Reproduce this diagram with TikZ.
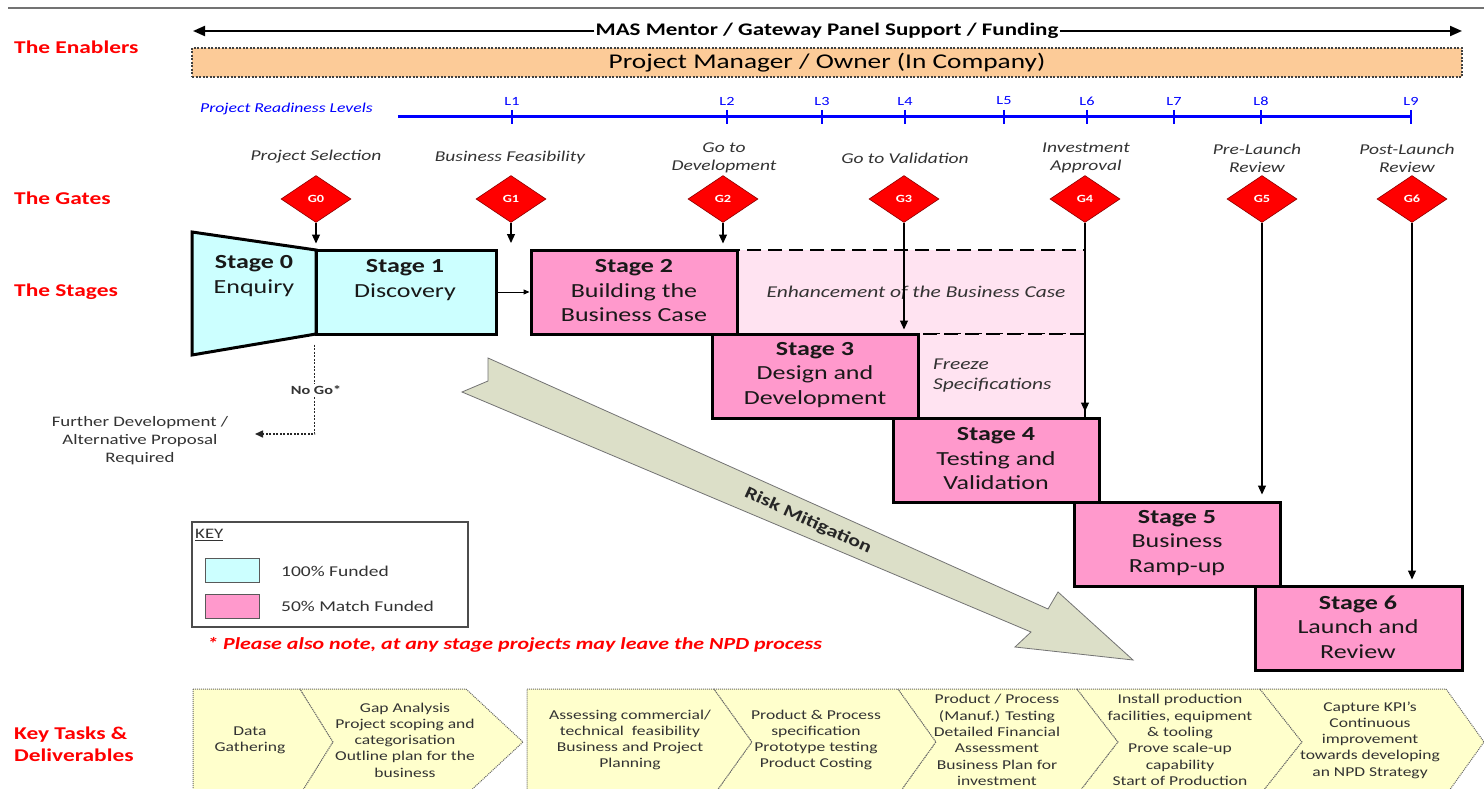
\documentclass[tikz,border=0pt]{standalone}
\usepackage{fontspec}
\setmainfont{Carlito}[FakeStretch=1.3]
\usetikzlibrary{arrows.meta,shapes.geometric,calc}
\definecolor{cyanfill}{HTML}{CCFFFF}
\definecolor{pinkfill}{HTML}{FF99CC}
\definecolor{lightpink}{HTML}{FFE3F1}
\definecolor{orangefill}{HTML}{FCCB98}
\definecolor{gatered}{HTML}{FF0000}
\definecolor{labelred}{HTML}{FF0000}
\definecolor{rlblue}{HTML}{0000FF}
\definecolor{riskfill}{HTML}{DCDFC8}
\definecolor{chevfill}{HTML}{FFFFCC}
\definecolor{txtgray}{HTML}{333333}
\newcommand{\fs}[2]{\fontsize{#1}{#2}\selectfont}
\begin{document}
\begin{tikzpicture}[x=1pt,y=-1pt,
  sectionlabel/.style={text=labelred, font=\fs{18}{21.5}\bfseries, anchor=west, inner sep=0, align=left},
  stagebox/.style={draw=black, line width=3pt, fill=pinkfill, inner sep=0, minimum height=84pt},
  dashbox/.style={draw=black, line width=2.8pt, dash pattern=on 14pt off 7pt, fill=lightpink, inner sep=0, minimum height=84pt},
  stagetext/.style={align=center, font=\fs{20}{24.5}, inner sep=0, text=black!90},
  gate/.style={diamond, fill=gatered, draw=red!55!black, line width=0.6pt, minimum width=70pt, minimum height=47pt, inner sep=0, text=white, font=\fs{11}{13}\bfseries},
  gatelabel/.style={font=\fs{15}{18}\itshape, text=txtgray, align=center, inner sep=0},
  gatearrow/.style={draw=black, line width=1.2pt, -{Triangle[length=9pt,width=8pt]}},
  level/.style={text=rlblue, font=\fs{12.5}{14}, inner sep=0},
  chev/.style={fill=chevfill, draw=black!60, densely dotted, line width=1pt},
  chevtext/.style={align=center, font=\fs{13.5}{16.3}, text=txtgray, inner sep=0},
  keytext/.style={anchor=west, font=\fs{15}{17}, text=txtgray, inner sep=0}
]
\useasboundingbox (0,0) rectangle (1484,789);
\fill[white] (0,0) rectangle (1484,789);
\clip (0,0) rectangle (1484,789);

% top rule
\draw[black!55, line width=1.3pt] (8,8) -- (1484,8);

% section labels
\node[sectionlabel] (lenab) at (14,47) {The Enablers};
\node[sectionlabel] (lgate) at (14,198) {The Gates};
\node[sectionlabel] (lstag) at (14,292) {The Stages};
\node[sectionlabel] (ltask) at (14,744) {Key Tasks \&\\Deliverables};

% enablers
\node[font=\fs{17.7}{20}\bfseries, inner sep=1pt] (mas) at (827,31) {MAS Mentor / Gateway Panel Support / Funding};
\coordinate (masL) at (193,31);
\coordinate (masR) at (1462,31);
\draw[line width=2pt, -{Triangle[length=12pt,width=10pt]}] (mas.west) -- (masL);
\draw[line width=2pt, -{Triangle[length=12pt,width=10pt]}] (mas.east) -- (masR);
\node[fill=orangefill, draw=black!75, line width=1.1pt, dash pattern=on 2pt off 1.5pt, minimum width=1270pt, minimum height=29pt, inner sep=0, font=\fs{21}{24}] (pm) at (827,62.5) {Project Manager / Owner (In Company)};

% readiness levels
\node[text=rlblue, font=\fs{13.6}{16}\itshape, anchor=west, inner sep=0] (prl) at (200,109) {Project Readiness Levels};
\draw[rlblue, line width=3pt] (398,117) -- (1412,117);
\foreach \x/\l in {512/L1,727/L2,822/L3,905/L4,1004/L5,1087/L6,1174/L7,1261/L8,1411/L9}{
  \draw[rlblue, line width=2pt] (\x,110) -- (\x,124);
  \node[level] (lev\l) at (\x,101) {\l};
}

% gate labels
\node[gatelabel] (gl0) at (316,157) {Project Selection};
\node[gatelabel] (gl1) at (510,158) {Business Feasibility};
\node[gatelabel] (gl2) at (724,158) {Go to\\Development};
\node[gatelabel] (gl3) at (905,158) {Go to Validation};
\node[gatelabel] (gl4) at (1086,158) {Investment\\Approval};
\node[gatelabel] (gl5) at (1257,158) {Pre-Launch\\Review};
\node[gatelabel] (gl6) at (1407,158) {Post-Launch\\Review};

% gates
\node[gate] (g0) at (316,199) {G0};
\node[gate] (g1) at (511,199) {G1};
\node[gate] (g2) at (723,199) {G2};
\node[gate] (g3) at (904,199) {G3};
\node[gate] (g4) at (1085,199) {G4};
\node[gate] (g5) at (1262,199) {G5};
\node[gate] (g6) at (1412,199) {G6};

% risk mitigation arrow
\draw[fill=riskfill, draw=black!55, line width=0.8pt]
  (488,358) -- (1048,609) -- (1058,592) -- (1133,660) -- (1015,647) -- (1031,632) -- (462,392) -- (488,381) -- cycle;
\node[rotate=-24.6, font=\fs{17}{20}\bfseries, text=black!85, inner sep=0] (risk) at (808,521) {Risk Mitigation};

% stages
\draw[draw=black, line width=3pt, fill=cyanfill, line join=miter] (192,232) -- (316,250) -- (316,334) -- (192,355) -- cycle;
\node[stagetext] (s0t) at (254,276) {\textbf{Stage 0}\\Enquiry};
\node[stagebox, fill=cyanfill, minimum width=180pt] (s1) at (406,292) {};
\node[stagetext] (s1t) at (405,280) {\textbf{Stage 1}\\Discovery};
\node[dashbox, minimum width=348pt] (enh) at (911,292) {};
\node[font=\fs{16.5}{19}\itshape, text=txtgray, inner sep=0] (enht) at (916,293) {Enhancement of the Business Case};
\node[dashbox, minimum width=167pt] (frz) at (1001.5,376) {};
\node[font=\fs{16.5}{20}\itshape, text=txtgray, inner sep=0, align=left, anchor=west] (frzt) at (933,376) {Freeze\\Specifications};
\node[stagebox, minimum width=206pt] (s2) at (634,292) {};
\node[stagetext] (s2t) at (634,291) {\textbf{Stage 2}\\Building the\\Business Case};
\node[stagebox, minimum width=206pt] (s3) at (815,376) {};
\node[stagetext] (s3t) at (815,375) {\textbf{Stage 3}\\Design and\\Development};
\node[stagebox, minimum width=206pt] (s4) at (996,460) {};
\node[stagetext] (s4t) at (996,459) {\textbf{Stage 4}\\Testing and\\Validation};
\node[stagebox, minimum width=206pt] (s5) at (1177,544) {};
\node[stagetext] (s5t) at (1177,543) {\textbf{Stage 5}\\Business\\Ramp-up};
\node[stagebox, minimum width=207pt] (s6) at (1358.5,628) {};
\node[stagetext] (s6t) at (1358,627) {\textbf{Stage 6}\\Launch and\\Review};

% stage 1 -> stage 2
\draw[line width=1pt, -{Triangle[length=6pt,width=5pt]}] (s1.east) -- (s2.west);

% gate arrows
\coordinate (g1end) at (511,243);
\draw[gatearrow, shorten >=5pt] (g0.south) -- (g0 |- s1.north);
\draw[gatearrow] (g1.south) -- (g1end);
\draw[gatearrow, shorten >=5pt] (g2.south) -- (g2 |- s2.north);
\draw[gatearrow, shorten >=3pt] (g3.south) -- (g3 |- s3.north);
\draw[gatearrow, shorten >=5pt] (g4.south) -- (g4 |- s4.north);
\draw[gatearrow, shorten >=6pt] (g5.south) -- (g5 |- s5.north);
\draw[gatearrow, shorten >=5pt] (g6.south) -- (g6 |- s6.north);

% no go
\node[align=center, font=\fs{14.5}{18}, text=txtgray, inner sep=0] (fdev) at (140,441) {Further Development /\\Alternative Proposal\\Required};
\coordinate (nogoend) at (255,434);
\draw[black!85, line width=1.5pt, dash pattern=on 2pt off 1.5pt, -{Triangle[length=8pt,width=7pt]}] ([yshift=-9pt]s1.south west) |- (nogoend);
\node[fill=white, font=\fs{12.5}{15}\bfseries, text=txtgray, inner sep=1.5pt] (nogo) at (316,390) {No Go*};

% key
\node[draw=black!70, line width=1.2pt, minimum width=276pt, minimum height=105pt, inner sep=0] (key) at (330,574.5) {};
\node[anchor=west, font=\fs{14.5}{16}, text=txtgray, inner sep=0] (keyt) at (195,535) {\underline{KEY}};
\node[draw=black!65, line width=1pt, fill=cyanfill, minimum width=54pt, minimum height=24pt, inner sep=0] (k1) at (232,570) {};
\node[draw=black!65, line width=1pt, fill=pinkfill, minimum width=54pt, minimum height=24pt, inner sep=0] (k2) at (232,606) {};
\node[keytext] (k1t) at (281,571) {100\% Funded};
\node[keytext] (k2t) at (281,606) {50\% Match Funded};
\node[anchor=west, text=labelred, font=\fs{16.9}{19}\bfseries\itshape, inner sep=0] (note) at (207,645) {* Please also note, at any stage projects may leave the NPD process};

% chevrons
\draw[chev] (193,689) -- (300,689) -- (333,742) -- (300,795) -- (193,795) -- cycle;
\draw[chev] (300,689) -- (466,689) -- (523,742) -- (466,795) -- (300,795) -- (333,742) -- cycle;
\draw[chev] (527,689) -- (714,689) -- (752,742) -- (714,795) -- (527,795) -- cycle;
\draw[chev] (714,689) -- (898,689) -- (936,742) -- (898,795) -- (714,795) -- (752,742) -- cycle;
\draw[chev] (898,689) -- (1077,689) -- (1118,742) -- (1077,795) -- (898,795) -- (936,742) -- cycle;
\draw[chev] (1077,689) -- (1260,689) -- (1302,742) -- (1260,795) -- (1077,795) -- (1118,742) -- cycle;
\draw[chev] (1260,689) -- (1446,689) -- (1484,742) -- (1446,795) -- (1260,795) -- (1302,742) -- cycle;
\node[chevtext] (c1) at (250,740) {Data\\Gathering};
\node[chevtext] (c2) at (405,740) {Gap Analysis\\Project scoping and\\categorisation\\Outline plan for the\\business};
\node[chevtext] (c3) at (630,740) {Assessing commercial/\\technical\ \ feasibility\\Business and Project\\Planning};
\node[chevtext] (c4) at (816,740) {Product \& Process\\specification\\Prototype testing\\Product Costing};
\node[chevtext] (c5) at (997,740) {Product / Process\\(Manuf.) Testing\\Detailed Financial\\Assessment\\Business Plan for\\investment};
\node[chevtext] (c6) at (1180,740) {Install production\\facilities, equipment\\\& tooling\\Prove scale-up\\capability\\Start of Production};
\node[chevtext] (c7) at (1370,740) {Capture KPI’s\\Continuous\\improvement\\towards developing\\an NPD Strategy};
\end{tikzpicture}
\end{document}
